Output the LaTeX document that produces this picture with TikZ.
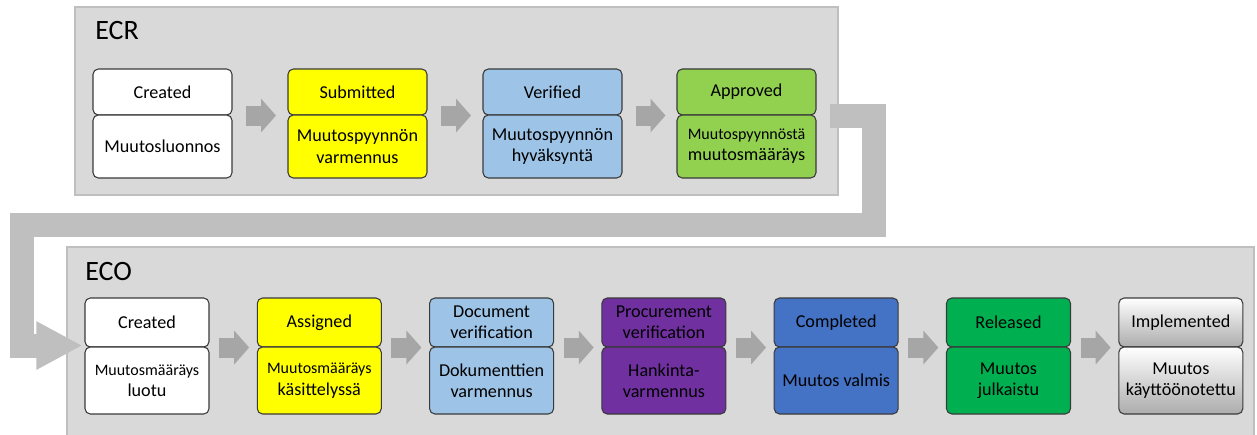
\documentclass[tikz,border=0pt]{standalone}
\usepackage{fontspec}
\setmainfont{Carlito}
\usetikzlibrary{arrows.meta,calc}
\definecolor{panelfill}{HTML}{D9D9D9}
\definecolor{paneldraw}{HTML}{BFBFBF}
\definecolor{bigarrowc}{HTML}{BFBFBF}
\definecolor{smallarrowc}{HTML}{A6A6A6}
\definecolor{cyellow}{HTML}{FFFF00}
\definecolor{clblue}{HTML}{9DC3E6}
\definecolor{clgreen}{HTML}{92D050}
\definecolor{cpurple}{HTML}{7030A0}
\definecolor{cblue}{HTML}{4472C4}
\definecolor{cgreen}{HTML}{00B050}
\definecolor{cborder}{HTML}{3A3A3A}
\tikzset{
  panel/.style={fill=panelfill,draw=paneldraw,line width=1pt},
  box/.style={draw=cborder,rounded corners=4pt,line width=0.8pt,align=center,inner sep=1pt,
    font=\fontsize{13.6}{16}\selectfont},
  title/.style={anchor=base west,inner sep=0pt,font=\fontsize{21}{24}\selectfont},
  sarrow/.style={draw=smallarrowc,line width=15pt,-{Triangle[length=11.25pt,width=24.75pt]}},
  bigarrow/.style={draw=bigarrowc,line width=18pt,line join=miter,-{Triangle[length=34.5pt,width=33.75pt]}},
  shadedbox/.style={top color=white,bottom color=gray!65}
}
% #1 name, #2 left x, #3 width, #4 top y, #5 mid y, #6 bottom y, #7 style, #8 top text, #9 bottom text
\newcommand\mystatepair[9]{%
  \node[box,#7,minimum width={#3*0.75pt},minimum height={(#5-#4)*0.75pt}] (#1t) at ({#2+#3/2},{(#4+#5)/2}) {#8};
  \node[box,#7,minimum width={#3*0.75pt},minimum height={(#6-#5)*0.75pt}] (#1b) at ({#2+#3/2},{(#5+#6)/2}) {#9};%
}
\newcommand\mysmallarrow[2]{%
  \draw[sarrow] ($(#1t.south east)!0.5!(#2t.south west)+(-14,0)$) -- ($(#1t.south east)!0.5!(#2t.south west)+(16,0)$);%
}
\begin{document}
\begin{tikzpicture}[x=0.75pt,y=-0.75pt]
\useasboundingbox (0,0) rectangle (1257,435);
% panels
\draw[panel] (75,7) rectangle (838,195);
\draw[panel] (67,247) rectangle (1254,437);
\node[title] (ecrtitle) at (95,40) {ECR};
\node[title] (ecotitle) at (85,280) {ECO};
% ECR states
\mystatepair{rA}{93}{139}{69}{115}{178}{fill=white}{Created}{Muutosluonnos}
\mystatepair{rB}{288}{139}{69}{115}{178}{fill=cyellow}{Submitted}{Muutospyynnön\\varmennus}
\mystatepair{rC}{483}{139}{69}{115}{178}{fill=clblue}{Verified}{Muutospyynnön\\hyväksyntä}
\mystatepair{rD}{677}{139}{69}{115}{178}{fill=clgreen}{Approved}{\fontsize{12}{15}\selectfont Muutospyynnöstä\\muutosmääräys}
\mysmallarrow{rA}{rB}
\mysmallarrow{rB}{rC}
\mysmallarrow{rC}{rD}
% ECO states
\mystatepair{oA}{85}{124}{298}{347}{414}{fill=white}{Created}{\fontsize{12}{15}\selectfont Muutosmääräys\\luotu}
\mystatepair{oB}{257.3}{124}{298}{347}{414}{fill=cyellow}{Assigned}{\fontsize{12}{15}\selectfont Muutosmääräys\\käsittelyssä}
\mystatepair{oC}{429.6}{124}{298}{347}{414}{fill=clblue}{Document\\verification}{Dokumenttien\\varmennus}
\mystatepair{oD}{601.9}{124}{298}{347}{414}{fill=cpurple}{Procurement\\verification}{Hankinta-\\varmennus}
\mystatepair{oE}{774.2}{124}{298}{347}{414}{fill=cblue}{Completed}{Muutos valmis}
\mystatepair{oF}{946.5}{124}{298}{347}{414}{fill=cgreen}{Released}{Muutos\\julkaistu}
\mystatepair{oG}{1118.8}{124}{298}{347}{414}{shadedbox}{Implemented}{Muutos\\käyttöönotettu}
\mysmallarrow{oA}{oB}
\mysmallarrow{oB}{oC}
\mysmallarrow{oC}{oD}
\mysmallarrow{oD}{oE}
\mysmallarrow{oE}{oF}
\mysmallarrow{oF}{oG}
% big connector from ECR to ECO
\coordinate (k1) at (874,224.5);
\coordinate (k2) at (21.5,224.5);
\draw[bigarrow] ($(rDt.south east)+(13,0.5)$) -| (k1) -- (k2) |- ($(oAt.south west)+(-2,-2)$);
\end{tikzpicture}
\end{document}
